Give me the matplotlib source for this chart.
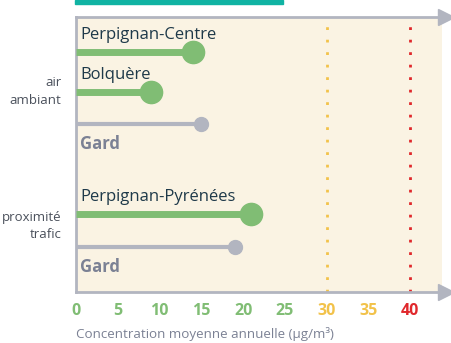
import matplotlib
matplotlib.use("Agg")
from matplotlib import pyplot as plt

plt.rcParams['font.family'] = ['Open Sans', 'DejaVu Sans']

# annual mean concentrations (µg/m³)
stations = ['Perpignan-Centre', 'Bolquère', 'Gard', 'Perpignan-Pyrénées', 'Gard']
values = [14, 9, 15, 21, 19]
is_ref = [False, False, True, False, True]
groups = ['air\nambiant', 'proximité\ntrafic']
ticks = [0, 5, 10, 15, 20, 25, 30, 35, 40]

green = '#80bd74'
grey = '#b2b5c0'
grey_txt = '#7b8194'
dark = '#1e3949'
bg = '#faf3e3'

def tick_color(v):
    if v >= 40:
        return '#e0282c'
    if v >= 30:
        return '#f2c24a'
    return green

# row positions (top to bottom)
rows = [52, 92, 124, 214, 247]
group_y = [91, 226]

fig = plt.figure(figsize=(4.51, 3.43), dpi=100)
ax = fig.add_axes([76 / 451, 1 - 292 / 343, 366 / 451, 275 / 343])
ax.set_facecolor(bg)
ax.set_xlim(0, 43.8)
ax.set_ylim(292, 17)

for name, v, ref, y in zip(stations, values, is_ref, rows):
    if ref:
        ax.plot([0, v], [y, y], color=grey, lw=3, solid_capstyle='butt', zorder=3)
        ax.plot(v, y, 'o', color=grey, ms=10, zorder=4)
        ax.text(0.5, y + 20, name, color=grey_txt, fontsize=12, fontweight='bold',
                va='center', ha='left')
    else:
        ax.plot([0, v], [y, y], color=green, lw=5, solid_capstyle='butt', zorder=3)
        ax.plot(v, y, 'o', color=green, ms=16, zorder=4)
        ax.text(0.5, y - 17, name, color=dark, fontsize=12, va='center', ha='left')

# thresholds
ax.axvline(30, color='#f2c24a', ls=(0, (1, 3.5)), lw=2, zorder=2)
ax.axvline(40, color='#e0282c', ls=(0, (1, 3.5)), lw=2, zorder=2)

ax.spines['right'].set_visible(False)
for s in ['left', 'top', 'bottom']:
    ax.spines[s].set_color(grey)
    ax.spines[s].set_linewidth(2)

# arrow heads on the horizontal axes
for ya in [0, 1]:
    ax.plot([1.0, 1.005], [ya, ya], color=grey, lw=2, transform=ax.transAxes, clip_on=False)
    ax.plot(1.012, ya, '>', color=grey, ms=11, transform=ax.transAxes, clip_on=False)

ax.set_yticks([])
ax.set_xticks(ticks)
ax.set_xticklabels([str(t) for t in ticks], fontsize=11.5, fontweight='bold')
for lab, t in zip(ax.get_xticklabels(), ticks):
    lab.set_color(tick_color(t))
ax.tick_params(axis='x', length=0, pad=8)
ax.set_xlabel('Concentration moyenne annuelle (µg/m³)', color=grey_txt, fontsize=9.6,
              loc='left', labelpad=6)

for g, y in zip(groups, group_y):
    ax.text(-0.04, y, g, transform=ax.get_yaxis_transform(), ha='right', va='center',
            color='#4a505b', fontsize=9.5, linespacing=1.5)

# title band at the top
fig.patches.append(plt.Rectangle((75 / 451, 1 - 4 / 343), 208 / 451, 4 / 343,
                                 transform=fig.transFigure, color='#10b3a3'))

fig.savefig('out.png', dpi=100)
